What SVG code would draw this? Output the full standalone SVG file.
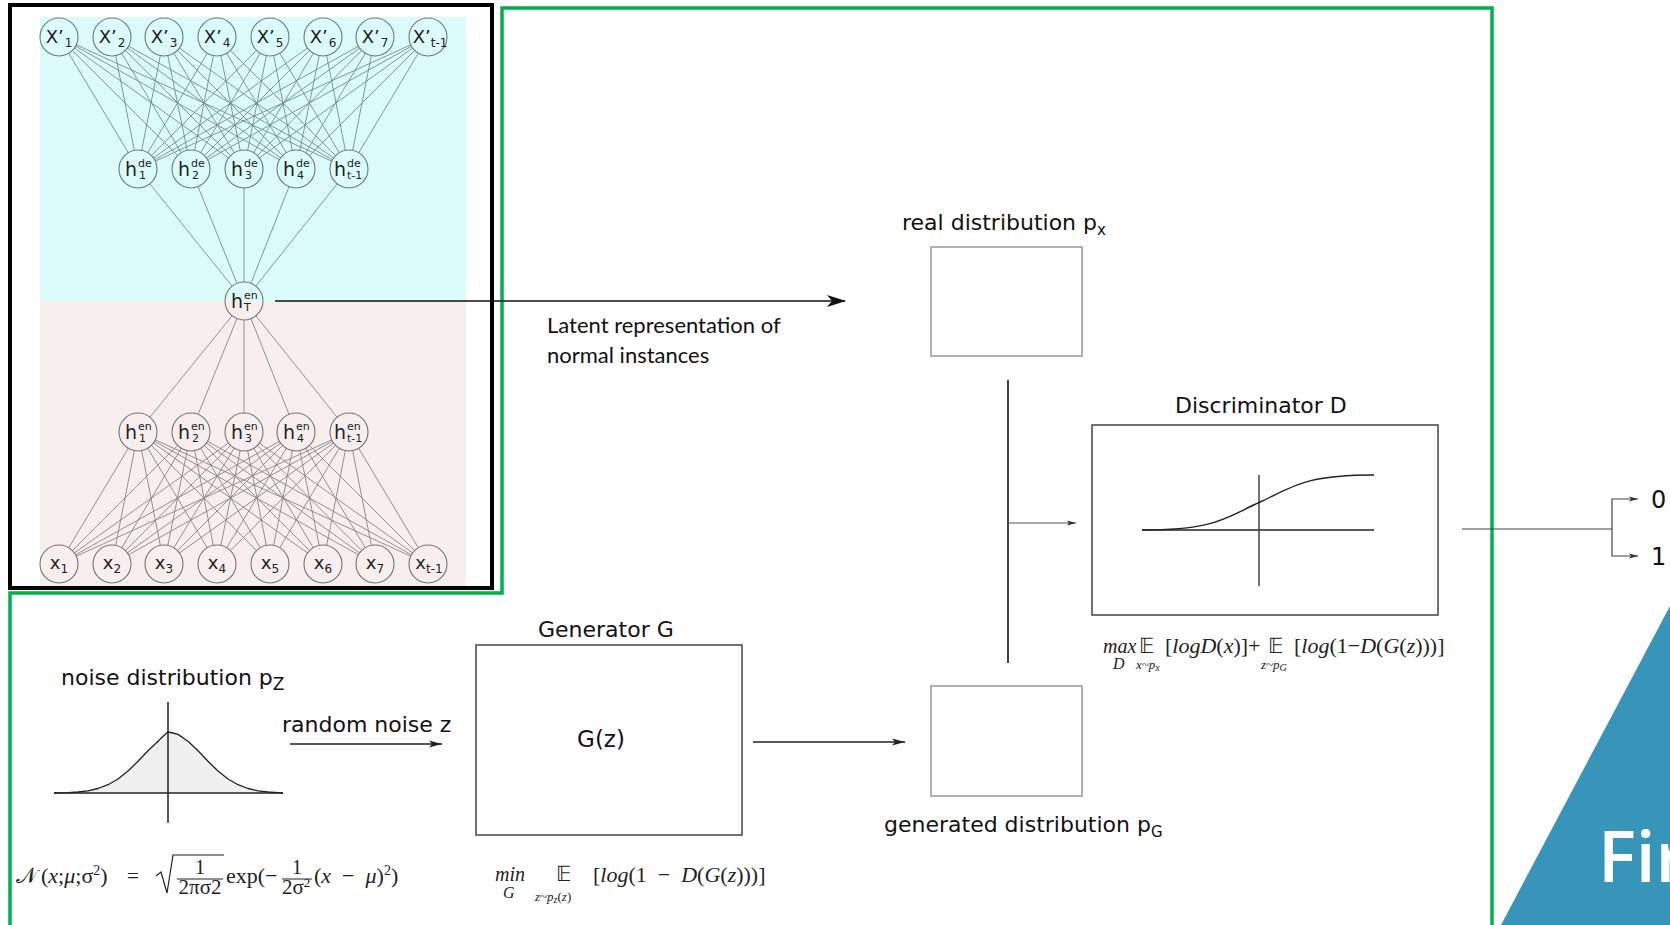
<svg xmlns="http://www.w3.org/2000/svg" width="1670" height="925" viewBox="0 0 1670 925">
<style>
.lbl{font-family:"DejaVu Sans",Verdana,sans-serif;fill:#111}
.nl{font-family:"DejaVu Sans",Verdana,sans-serif;fill:#222}
.fm{font-family:"Liberation Serif","Times New Roman",serif;fill:#222}
.it{font-style:italic}
.ncy{fill:#DCFCFC;stroke:#6a7a7a;stroke-width:1.1}
.npk{fill:#F7EEEE;stroke:#7a7373;stroke-width:1.1}
.box{fill:none;stroke:#444;stroke-width:1.5}
.gbox{fill:none;stroke:#999;stroke-width:1.5}
</style>
<defs>
<marker id="big" markerWidth="20" markerHeight="12" refX="18" refY="6" orient="auto" markerUnits="userSpaceOnUse">
<path d="M0,0 L19,6 L0,12 L5,6 z" fill="#111"/>
</marker>
<marker id="sm" markerWidth="14" markerHeight="8" refX="13" refY="4" orient="auto" markerUnits="userSpaceOnUse">
<path d="M0,0.5 L13,4 L0,7.5 L3,4 z" fill="#222"/>
</marker>
<marker id="tiny" markerWidth="10" markerHeight="6" refX="9" refY="3" orient="auto" markerUnits="userSpaceOnUse">
<path d="M0,0.5 L9,3 L0,5.5 L2,3 z" fill="#333"/>
</marker>
<linearGradient id="half" x1="0" y1="0" x2="0" y2="1">
<stop offset="0.5" stop-color="#DCFCFC"/><stop offset="0.5" stop-color="#F7EEEE"/>
</linearGradient>
</defs>
<rect width="1670" height="925" fill="#fff"/>

<!-- backgrounds -->
<rect x="40" y="17" width="426" height="284" fill="#DCFCFC"/>
<rect x="40" y="301" width="426" height="286" fill="#F7EEEE"/>

<!-- blue corner -->
<polygon points="1501,925 1670,606 1670,925" fill="#3795BA"/>
<text x="1598" y="882" font-family="'Open Sans',sans-serif" font-weight="600" font-size="71" fill="#fff">Fir</text>

<!-- frames -->
<rect x="10" y="5" width="482" height="583" fill="none" stroke="#000" stroke-width="4"/>
<path d="M10,926 V593 H502 V8 H1492 V926" fill="none" stroke="#00B050" stroke-width="3.5"/>

<g id="connectors">
<g fill="none" stroke="#6e8c8a" stroke-width="0.9">
<path d="M138,169L59,37L349,169M191,169L59,37L296,169M244,169L59,37"/>
<path d="M138,169L112,37L349,169M191,169L112,37L296,169M244,169L112,37"/>
<path d="M138,169L164,37L349,169M191,169L164,37L296,169M244,169L164,37"/>
<path d="M138,169L217,37L349,169M191,169L217,37L296,169M244,169L217,37"/>
<path d="M138,169L270,37L349,169M191,169L270,37L296,169M244,169L270,37"/>
<path d="M138,169L323,37L349,169M191,169L323,37L296,169M244,169L323,37"/>
<path d="M138,169L375,37L349,169M191,169L375,37L296,169M244,169L375,37"/>
<path d="M138,169L428,37L349,169M191,169L428,37L296,169M244,169L428,37"/>
<path d="M138,169L244,301L349,169M191,169L244,301L296,169M244,169L244,301"/>
</g>
<g fill="none" stroke="#8a8484" stroke-width="0.9">
<path d="M138,432L244,301L349,432M191,432L244,301L296,432M244,432L244,301"/>
<path d="M138,432L59,564L349,432M191,432L59,564L296,432M244,432L59,564"/>
<path d="M138,432L112,564L349,432M191,432L112,564L296,432M244,432L112,564"/>
<path d="M138,432L164,564L349,432M191,432L164,564L296,432M244,432L164,564"/>
<path d="M138,432L217,564L349,432M191,432L217,564L296,432M244,432L217,564"/>
<path d="M138,432L270,564L349,432M191,432L270,564L296,432M244,432L270,564"/>
<path d="M138,432L323,564L349,432M191,432L323,564L296,432M244,432L323,564"/>
<path d="M138,432L375,564L349,432M191,432L375,564L296,432M244,432L375,564"/>
<path d="M138,432L428,564L349,432M191,432L428,564L296,432M244,432L428,564"/>
</g>
<line x1="275" y1="301" x2="845" y2="301" stroke="#111" stroke-width="1.6" marker-end="url(#big)"/>
<line x1="290" y1="744" x2="442" y2="744" stroke="#222" stroke-width="1.3" marker-end="url(#sm)"/>
<line x1="753" y1="742" x2="905" y2="742" stroke="#222" stroke-width="1.3" marker-end="url(#sm)"/>
<line x1="1008" y1="380" x2="1008" y2="663" stroke="#111" stroke-width="1.6"/>
<line x1="1008" y1="523" x2="1076" y2="523" stroke="#555" stroke-width="1" marker-end="url(#tiny)"/>
<line x1="1462" y1="529" x2="1612" y2="529" stroke="#444" stroke-width="1.2"/>
<path d="M1612,529 V499 H1638" fill="none" stroke="#444" stroke-width="1.2" marker-end="url(#tiny)"/>
<path d="M1612,529 V556 H1638" fill="none" stroke="#444" stroke-width="1.2" marker-end="url(#tiny)"/>
</g>

<!-- decoder output nodes -->
<g id="xp1"><circle cx="59" cy="37" r="19" class="ncy"/><text x="59" y="43" class="nl" font-size="18" text-anchor="middle">X’<tspan font-size="12" dy="4" dx="1">1</tspan></text></g>
<g id="xp2"><circle cx="112" cy="37" r="19" class="ncy"/><text x="112" y="43" class="nl" font-size="18" text-anchor="middle">X’<tspan font-size="12" dy="4" dx="1">2</tspan></text></g>
<g id="xp3"><circle cx="164" cy="37" r="19" class="ncy"/><text x="164" y="43" class="nl" font-size="18" text-anchor="middle">X’<tspan font-size="12" dy="4" dx="1">3</tspan></text></g>
<g id="xp4"><circle cx="217" cy="37" r="19" class="ncy"/><text x="217" y="43" class="nl" font-size="18" text-anchor="middle">X’<tspan font-size="12" dy="4" dx="1">4</tspan></text></g>
<g id="xp5"><circle cx="270" cy="37" r="19" class="ncy"/><text x="270" y="43" class="nl" font-size="18" text-anchor="middle">X’<tspan font-size="12" dy="4" dx="1">5</tspan></text></g>
<g id="xp6"><circle cx="323" cy="37" r="19" class="ncy"/><text x="323" y="43" class="nl" font-size="18" text-anchor="middle">X’<tspan font-size="12" dy="4" dx="1">6</tspan></text></g>
<g id="xp7"><circle cx="375" cy="37" r="19" class="ncy"/><text x="375" y="43" class="nl" font-size="18" text-anchor="middle">X’<tspan font-size="12" dy="4" dx="1">7</tspan></text></g>
<g id="xpt"><circle cx="428" cy="37" r="19" class="ncy"/><text x="430" y="43" class="nl" font-size="18" text-anchor="middle">X’<tspan font-size="12" dy="4">t-1</tspan></text></g>

<!-- decoder hidden nodes -->
<g id="hde1"><circle cx="138" cy="169" r="19" class="ncy"/><text x="137" y="176" class="nl" font-size="19" text-anchor="end">h</text><text x="138" y="167" class="nl" font-size="11">de</text><text x="139" y="179" class="nl" font-size="11">1</text></g>
<g id="hde2"><circle cx="191" cy="169" r="19" class="ncy"/><text x="190" y="176" class="nl" font-size="19" text-anchor="end">h</text><text x="191" y="167" class="nl" font-size="11">de</text><text x="192" y="179" class="nl" font-size="11">2</text></g>
<g id="hde3"><circle cx="244" cy="169" r="19" class="ncy"/><text x="243" y="176" class="nl" font-size="19" text-anchor="end">h</text><text x="244" y="167" class="nl" font-size="11">de</text><text x="245" y="179" class="nl" font-size="11">3</text></g>
<g id="hde4"><circle cx="296" cy="169" r="19" class="ncy"/><text x="295" y="176" class="nl" font-size="19" text-anchor="end">h</text><text x="296" y="167" class="nl" font-size="11">de</text><text x="297" y="179" class="nl" font-size="11">4</text></g>
<g id="hde5"><circle cx="349" cy="169" r="19" class="ncy"/><text x="346" y="176" class="nl" font-size="19" text-anchor="end">h</text><text x="347" y="167" class="nl" font-size="11">de</text><text x="347" y="179" class="nl" font-size="11">t-1</text></g>

<!-- latent node -->
<g id="hT"><circle cx="244" cy="301" r="19" fill="url(#half)" stroke="#777" stroke-width="1.1"/><text x="243" y="308" class="nl" font-size="19" text-anchor="end">h</text><text x="244" y="299" class="nl" font-size="11">en</text><text x="244" y="311" class="nl" font-size="11">T</text></g>

<!-- encoder hidden nodes -->
<g id="hen1"><circle cx="138" cy="432" r="19" class="npk"/><text x="137" y="439" class="nl" font-size="19" text-anchor="end">h</text><text x="138" y="430" class="nl" font-size="11">en</text><text x="139" y="442" class="nl" font-size="11">1</text></g>
<g id="hen2"><circle cx="191" cy="432" r="19" class="npk"/><text x="190" y="439" class="nl" font-size="19" text-anchor="end">h</text><text x="191" y="430" class="nl" font-size="11">en</text><text x="192" y="442" class="nl" font-size="11">2</text></g>
<g id="hen3"><circle cx="244" cy="432" r="19" class="npk"/><text x="243" y="439" class="nl" font-size="19" text-anchor="end">h</text><text x="244" y="430" class="nl" font-size="11">en</text><text x="245" y="442" class="nl" font-size="11">3</text></g>
<g id="hen4"><circle cx="296" cy="432" r="19" class="npk"/><text x="295" y="439" class="nl" font-size="19" text-anchor="end">h</text><text x="296" y="430" class="nl" font-size="11">en</text><text x="297" y="442" class="nl" font-size="11">4</text></g>
<g id="hen5"><circle cx="349" cy="432" r="19" class="npk"/><text x="346" y="439" class="nl" font-size="19" text-anchor="end">h</text><text x="347" y="430" class="nl" font-size="11">en</text><text x="347" y="442" class="nl" font-size="11">t-1</text></g>

<!-- input nodes -->
<g id="x1"><circle cx="59" cy="564" r="19" class="npk"/><text x="59" y="569" class="nl" font-size="18" text-anchor="middle">x<tspan font-size="12" dy="4">1</tspan></text></g>
<g id="x2"><circle cx="112" cy="564" r="19" class="npk"/><text x="112" y="569" class="nl" font-size="18" text-anchor="middle">x<tspan font-size="12" dy="4">2</tspan></text></g>
<g id="x3"><circle cx="164" cy="564" r="19" class="npk"/><text x="164" y="569" class="nl" font-size="18" text-anchor="middle">x<tspan font-size="12" dy="4">3</tspan></text></g>
<g id="x4"><circle cx="217" cy="564" r="19" class="npk"/><text x="217" y="569" class="nl" font-size="18" text-anchor="middle">x<tspan font-size="12" dy="4">4</tspan></text></g>
<g id="x5"><circle cx="270" cy="564" r="19" class="npk"/><text x="270" y="569" class="nl" font-size="18" text-anchor="middle">x<tspan font-size="12" dy="4">5</tspan></text></g>
<g id="x6"><circle cx="323" cy="564" r="19" class="npk"/><text x="323" y="569" class="nl" font-size="18" text-anchor="middle">x<tspan font-size="12" dy="4">6</tspan></text></g>
<g id="x7"><circle cx="375" cy="564" r="19" class="npk"/><text x="375" y="569" class="nl" font-size="18" text-anchor="middle">x<tspan font-size="12" dy="4">7</tspan></text></g>
<g id="xt"><circle cx="428" cy="564" r="19" class="npk"/><text x="429" y="569" class="nl" font-size="18" text-anchor="middle">x<tspan font-size="12" dy="4">t-1</tspan></text></g>

<!-- latent label -->
<g id="latent-label">
<text x="547" y="333" font-family="Lato,'Liberation Sans',sans-serif" font-size="22" fill="#111">Latent representation of</text>
<text x="547" y="363" font-family="Lato,'Liberation Sans',sans-serif" font-size="22" fill="#111">normal instances</text>
</g>

<!-- real distribution -->
<g id="real">
<text x="902" y="230" class="lbl" font-size="22">real distribution p<tspan font-size="15" dy="5">x</tspan></text>
<rect x="931" y="247" width="151" height="109" class="gbox"/>
</g>

<!-- generated distribution -->
<g id="generated">
<rect x="931" y="686" width="151" height="110" class="gbox"/>
<text x="884" y="832" class="lbl" font-size="22">generated distribution p<tspan font-size="15" dy="5">G</tspan></text>
</g>

<!-- noise -->
<g id="noise">
<text x="61" y="685" class="lbl" font-size="22">noise distribution p<tspan font-size="17" dy="5">Z</tspan></text>
<path d="M54,793 L58,792.9 L68,792.7 L78,792 L88,790.8 L98,788.5 L108,784.7 L118,779 L128,771 L138,761.3 L148,750.7 L158,741.2 L168,732 L178,734.4 L188,741.2 L198,750.7 L208,761.3 L218,771 L228,779 L238,784.7 L248,788.5 L258,790.8 L268,792 L278,792.7 L283,793 Z" fill="#F0F0F0" stroke="none"/>
<path d="M54,793 L58,792.9 L68,792.7 L78,792 L88,790.8 L98,788.5 L108,784.7 L118,779 L128,771 L138,761.3 L148,750.7 L158,741.2 L163,736.2 L168,732 L173,733 L178,734.4 L188,741.2 L198,750.7 L208,761.3 L218,771 L228,779 L238,784.7 L248,788.5 L258,790.8 L268,792 L278,792.7 L283,793" fill="none" stroke="#222" stroke-width="1.3" stroke-linejoin="round"/>
<line x1="54" y1="793" x2="283" y2="793" stroke="#222" stroke-width="1.5"/>
<line x1="168" y1="702" x2="168" y2="823" stroke="#222" stroke-width="1.5"/>
<text x="282" y="732" class="lbl" font-size="22">random noise z</text>
<text x="16" y="883" class="fm" font-size="22">𝒩</text>
<text x="41" y="883" class="fm" font-size="22" xml:space="preserve">(<tspan class="it">x</tspan>;<tspan class="it">μ</tspan>;σ<tspan font-size="14" dy="-8">2</tspan><tspan dy="8">)</tspan></text>
<text x="127" y="883" class="fm" font-size="21">=</text>
<path d="M156,876 L161,872 L167,893 L173,855 H224" fill="none" stroke="#222" stroke-width="1.2"/>
<text x="200" y="874" class="fm" font-size="20" text-anchor="middle">1</text>
<line x1="177" y1="879" x2="223" y2="879" stroke="#222" stroke-width="1"/>
<text x="200" y="894" class="fm" font-size="21" text-anchor="middle">2πσ2</text>
<text x="226" y="883" class="fm" font-size="22">exp(−</text>
<text x="297" y="874" class="fm" font-size="20" text-anchor="middle">1</text>
<line x1="282" y1="879" x2="312" y2="879" stroke="#222" stroke-width="1"/>
<text x="282" y="894" class="fm" font-size="21">2σ<tspan font-size="13" dy="-7">2</tspan></text>
<text x="314" y="883" class="fm" font-size="22" xml:space="preserve">(<tspan class="it">x</tspan>  −  <tspan class="it">μ</tspan>)<tspan font-size="14" dy="-8">2</tspan><tspan dy="8">)</tspan></text>
</g>

<!-- generator -->
<g id="generator">
<text x="538" y="637" class="lbl" font-size="22">Generator G</text>
<rect x="476" y="645" width="266" height="190" class="box"/>
<text x="601" y="747" class="lbl" font-size="23" text-anchor="middle">G(z)</text>
<text x="495" y="881" class="fm it" font-size="20">min</text>
<text x="503" y="898" class="fm it" font-size="16">G</text>
<text x="556" y="881" class="fm" font-size="21">𝔼</text>
<text x="535" y="901" class="fm" font-size="13"><tspan class="it">z</tspan>~<tspan class="it">p</tspan><tspan font-size="10" dy="2" class="it">z</tspan><tspan dy="-2">(</tspan><tspan class="it">z</tspan>)</text>
<text x="593" y="882" class="fm" font-size="22" xml:space="preserve">[<tspan class="it">log</tspan>(1  −  <tspan class="it">D</tspan>(<tspan class="it">G</tspan>(<tspan class="it">z</tspan>)))]</text>
</g>

<!-- discriminator -->
<g id="discriminator">
<text x="1175" y="413" class="lbl" font-size="22">Discriminator D</text>
<rect x="1092" y="425" width="346" height="190" class="box"/>
<line x1="1142" y1="530" x2="1374" y2="530" stroke="#222" stroke-width="1.5"/>
<line x1="1259" y1="475" x2="1259" y2="586" stroke="#444" stroke-width="1.5"/>
<path d="M1142,530 C1215,530 1225,518 1259,502.5 C1293,487 1303,475 1374,475" fill="none" stroke="#222" stroke-width="1.4"/>
<text x="1103" y="653" class="fm it" font-size="20">max</text>
<text x="1113" y="669" class="fm it" font-size="16">D</text>
<text x="1139" y="653" class="fm" font-size="21">𝔼</text>
<text x="1136" y="669" class="fm it" font-size="13">x~p<tspan font-size="10" dy="2">x</tspan></text>
<text x="1165" y="653" class="fm" font-size="22">[<tspan class="it">logD</tspan>(<tspan class="it">x</tspan>)]+</text>
<text x="1268" y="653" class="fm" font-size="21">𝔼</text>
<text x="1261" y="669" class="fm it" font-size="13">z~p<tspan font-size="10" dy="2">G</tspan></text>
<text x="1294" y="653" class="fm" font-size="22">[<tspan class="it">log</tspan>(1−<tspan class="it">D</tspan>(<tspan class="it">G</tspan>(<tspan class="it">z</tspan>)))]</text>
</g>

<!-- outputs -->
<g id="out0"><text x="1651" y="508" class="lbl" font-size="24">0</text></g>
<g id="out1"><text x="1651" y="565" class="lbl" font-size="24">1</text></g>
</svg>
